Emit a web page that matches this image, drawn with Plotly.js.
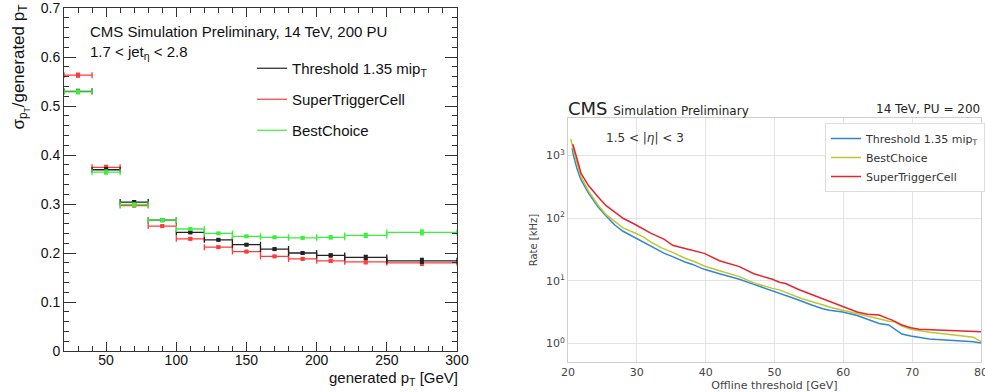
<!DOCTYPE html>
<html>
<head>
<meta charset="utf-8">
<script src="https://cdn.plot.ly/plotly-3.0.1.min.js"></script>
<style>html,body{margin:0;padding:0;background:#fff;}</style>
</head>
<body>
<div id="chart" style="width:985px;height:392px;"></div>
<script>
// ---- Left panel: resolution vs generated pT ----
const ptCenters   = [30, 50, 70, 90, 110, 130, 150, 170, 190, 210, 235, 275];
const ptHalfWidth = [10, 10, 10, 10, 10, 10, 10, 10, 10, 10, 15, 25];
const resThr = [0.530, 0.370, 0.304, 0.267, 0.242, 0.227, 0.217, 0.208, 0.200, 0.195, 0.191, 0.184];
const resSTC = [0.563, 0.375, 0.297, 0.255, 0.229, 0.212, 0.203, 0.193, 0.188, 0.184, 0.182, 0.180];
const resBC  = [0.529, 0.365, 0.299, 0.267, 0.249, 0.240, 0.234, 0.232, 0.231, 0.232, 0.236, 0.242];
const errThr = [0.004, 0.004, 0.003, 0.002, 0.002, 0.002, 0.002, 0.002, 0.002, 0.003, 0.004, 0.005];
const errSTC = [0.004, 0.004, 0.003, 0.002, 0.002, 0.002, 0.002, 0.002, 0.002, 0.003, 0.004, 0.005];
const errBC  = [0.004, 0.004, 0.003, 0.002, 0.002, 0.002, 0.002, 0.002, 0.002, 0.003, 0.004, 0.005];

// ---- Right panel: rate vs offline threshold ----
const thrThr  = [20.6, 20.8, 21.3, 21.9, 23, 24.35, 25.5, 26.8, 28, 29.9, 32, 34, 35.2, 37, 38, 39.8, 42, 44.9, 47, 49.7, 50.7, 51.6, 53, 55.5, 57, 58, 59.9, 62, 63.5, 65.2, 66.6, 67.6, 68.5, 69.8, 71, 72.5, 74.8, 77, 78.9, 80];
const rateThr = [1310, 1000, 620, 410, 250, 153, 110, 78, 62, 48, 37, 27.5, 24.4, 20, 18.5, 15.3, 13, 10.6, 8.8, 7.0, 6.5, 6.0, 5.2, 4.1, 3.6, 3.4, 3.2, 2.8, 2.45, 2.09, 1.98, 1.64, 1.42, 1.32, 1.25, 1.18, 1.14, 1.1, 1.07, 1.02];
const thrBC  = [20.4, 20.7, 21.0, 21.4, 21.9, 23, 24.35, 25.5, 26.8, 28, 29.9, 31, 32, 33.5, 35.2, 37, 38.5, 39.8, 42, 44.9, 47, 48.5, 49.7, 50.7, 52, 54, 55.5, 57, 58.5, 59.9, 62, 64, 65.2, 66.5, 67.5, 68.5, 69.8, 71, 72.5, 74.8, 77, 78.9, 79.4, 80];
const rateBC = [1850, 1300, 1000, 700, 460, 270, 163, 115, 88, 70, 57, 50, 42, 34, 28.6, 23, 20, 17.3, 14.5, 11.7, 9.3, 8.2, 7.6, 7.2, 6.3, 5.2, 4.66, 4.1, 3.7, 3.4, 3.0, 2.6, 2.43, 2.3, 2.2, 1.9, 1.69, 1.6, 1.52, 1.42, 1.33, 1.26, 1.18, 1.07];
const thrSTC  = [20.7, 21.0, 21.2, 21.5, 21.9, 23, 24.35, 25.5, 26.8, 28, 29.9, 32, 34, 35.2, 37, 38.5, 39.8, 42, 44.9, 47, 49.7, 50.7, 51.6, 53.5, 55.5, 57.5, 59.9, 62, 63.5, 65.2, 66.5, 67.1, 68.5, 69.8, 71, 72.5, 74.8, 77, 78.9, 80];
const rateSTC = [1520, 1200, 1000, 750, 520, 330, 221, 160, 125, 100, 78, 58, 46, 37, 33, 30, 27.5, 21, 16.9, 13, 10.6, 9.5, 9.1, 7.3, 6.0, 4.85, 3.9, 3.2, 2.95, 2.85, 2.5, 2.37, 1.98, 1.79, 1.7, 1.67, 1.64, 1.6, 1.58, 1.55];

const leftNames  = ['Threshold 1.35 mip<sub>T</sub>', 'SuperTriggerCell', 'BestChoice'];
const rightNames = ['Threshold 1.35 mip<sub>T</sub>', 'BestChoice', 'SuperTriggerCell'];

const rootFont = 'Liberation Sans, Arial, sans-serif';
const mplFont = 'DejaVu Sans, sans-serif';

function resTrace(y, err, color) {
  return {
    x: ptCenters, y: y, type: 'scatter', mode: 'markers',
    xaxis: 'x', yaxis: 'y', showlegend: false, hoverinfo: 'skip',
    marker: {symbol: 'square', size: 4, color: color},
    error_x: {type: 'data', array: ptHalfWidth, visible: true, color: color, thickness: 1.3, width: 3},
    error_y: {type: 'data', array: err, visible: true, color: color, thickness: 1.3, width: 2}
  };
}
function legDummy(name, color, grp) {
  return {x: [null], y: [null], type: 'scatter', mode: 'lines', name: name, legendgroup: grp,
    xaxis: 'x', yaxis: 'y', legend: 'legend', line: {color: color, width: 1.2}, hoverinfo: 'skip'};
}
const cBlack = '#222222', cRed = '#ff3b3b', cGreen = '#3ef03e';
const cBlue = '#2e86d4', cOlive = '#c3c52e', cRed2 = '#e4252d';

const traces = [
  resTrace(resSTC, errSTC, cRed),
  resTrace(resThr, errThr, cBlack),
  resTrace(resBC, errBC, cGreen),
  legDummy(leftNames[0], cBlack, 'g1'),
  legDummy(leftNames[1], cRed, 'g2'),
  legDummy(leftNames[2], cGreen, 'g3'),
  {x: thrThr, y: rateThr, type: 'scatter', mode: 'lines', name: rightNames[0], xaxis: 'x2', yaxis: 'y2', legend: 'legend2', line: {color: cBlue, width: 1.5}},
  {x: thrBC, y: rateBC, type: 'scatter', mode: 'lines', name: rightNames[1], xaxis: 'x2', yaxis: 'y2', legend: 'legend2', line: {color: cOlive, width: 1.5}},
  {x: thrSTC, y: rateSTC, type: 'scatter', mode: 'lines', name: rightNames[2], xaxis: 'x2', yaxis: 'y2', legend: 'legend2', line: {color: cRed2, width: 1.5}}
];

const px = v => v / 985;
const py = v => (392 - v) / 392;

const layout = {
  width: 985, height: 392,
  margin: {l: 0, r: 0, t: 0, b: 0},
  paper_bgcolor: '#ffffff', plot_bgcolor: '#ffffff',
  showlegend: true,
  xaxis: {
    domain: [px(64), px(457)], range: [20, 300.01], anchor: 'y',
    tick0: 0, dtick: 50, ticks: 'inside', ticklen: 9, tickwidth: 1, tickcolor: '#333',
    showline: true, linecolor: '#333', linewidth: 1, mirror: 'allticks',
    showgrid: false, zeroline: false, ticklabelstandoff: -4, ticklabeloverflow: 'allow',
    minor: {dtick: 10, ticks: 'inside', ticklen: 5, tickcolor: '#333', showgrid: false},
    tickfont: {family: rootFont, size: 14, color: '#111'}
  },
  yaxis: {
    domain: [py(351), py(8)], range: [0, 0.7001], anchor: 'x',
    tick0: 0, dtick: 0.1, ticks: 'inside', ticklen: 12, tickwidth: 1, tickcolor: '#333',
    showline: true, linecolor: '#333', linewidth: 1, mirror: 'allticks',
    showgrid: false, zeroline: false, ticklabeloverflow: 'allow',
    minor: {dtick: 0.02, ticks: 'inside', ticklen: 5, tickcolor: '#333', showgrid: false},
    tickfont: {family: rootFont, size: 14, color: '#111'}
  },
  xaxis2: {
    domain: [px(568), px(981)], range: [20, 80], anchor: 'y2',
    tick0: 20, dtick: 10, ticks: '', showgrid: true, gridcolor: '#e3e3e3', gridwidth: 1,
    showline: true, linecolor: '#cfcfcf', linewidth: 1, mirror: true, zeroline: false,
    ticklabeloverflow: 'allow',
    tickfont: {family: mplFont, size: 11, color: '#444'},
    title: {text: 'Offline threshold [GeV]', font: {family: mplFont, size: 11, color: '#444'}, standoff: 4}
  },
  yaxis2: {
    domain: [py(362), py(118)], type: 'log', range: [-0.294, 3.6], anchor: 'x2',
    tickvals: [1, 10, 100, 1000],
    ticktext: ['10<sup>0</sup>', '10<sup>1</sup>', '10<sup>2</sup>', '10<sup>3</sup>'],
    ticks: '', showgrid: true, gridcolor: '#e3e3e3', gridwidth: 1,
    showline: true, linecolor: '#cfcfcf', linewidth: 1, mirror: true, zeroline: false,
    tickfont: {family: mplFont, size: 11, color: '#444'},
    title: {text: 'Rate [kHz]', font: {family: mplFont, size: 10, color: '#444'}, standoff: 6}
  },
  legend: {
    x: px(252), y: py(52), xanchor: 'left', yanchor: 'top',
    bgcolor: 'rgba(0,0,0,0)', borderwidth: 0,
    font: {family: rootFont, size: 15, color: '#111'},
    traceorder: 'grouped', tracegroupgap: 8.5, itemwidth: 30
  },
  legend2: {
    x: px(825), y: py(123), xanchor: 'left', yanchor: 'top',
    bgcolor: '#ffffff', bordercolor: '#dddddd', borderwidth: 1,
    font: {family: mplFont, size: 11, color: '#333'},
    traceorder: 'normal', itemwidth: 30
  },
  annotations: [
    {xref: 'paper', yref: 'paper', x: px(88), y: py(32), xanchor: 'left', yanchor: 'middle', showarrow: false,
     text: 'CMS Simulation Preliminary, 14 TeV, 200 PU', font: {family: rootFont, size: 15, color: '#111'}},
    {xref: 'paper', yref: 'paper', x: px(88), y: py(52), xanchor: 'left', yanchor: 'middle', showarrow: false,
     text: '1.7 &lt; jet<sub>η</sub> &lt; 2.8', font: {family: rootFont, size: 15, color: '#111'}},
    {xref: 'paper', yref: 'paper', x: px(20), y: py(3), xanchor: 'center', yanchor: 'top', showarrow: false, textangle: -90,
     text: 'σ<sub>p<sub>T</sub></sub>/generated p<sub>T</sub>', font: {family: rootFont, size: 17, color: '#111'}},
    {xref: 'paper', yref: 'paper', x: px(460), y: py(378), xanchor: 'right', yanchor: 'middle', showarrow: false,
     text: 'generated p<sub>T</sub> [GeV]', font: {family: rootFont, size: 15, color: '#111'}},
    {xref: 'paper', yref: 'paper', x: px(566), y: py(109), xanchor: 'left', yanchor: 'middle', showarrow: false,
     text: 'CMS <span style="font-size:12px">Simulation Preliminary</span>', font: {family: mplFont, size: 18, color: '#222'}},
    {xref: 'paper', yref: 'paper', x: px(982), y: py(109), xanchor: 'right', yanchor: 'middle', showarrow: false,
     text: '14 TeV, PU = 200', font: {family: mplFont, size: 12, color: '#222'}},
    {xref: 'paper', yref: 'paper', x: px(604), y: py(138), xanchor: 'left', yanchor: 'middle', showarrow: false,
     text: '1.5 &lt; |<i>η</i>| &lt; 3', font: {family: mplFont, size: 12, color: '#333'}}
  ]
};

Plotly.newPlot('chart', traces, layout, {staticPlot: true, displayModeBar: false});
</script>
</body>
</html>
